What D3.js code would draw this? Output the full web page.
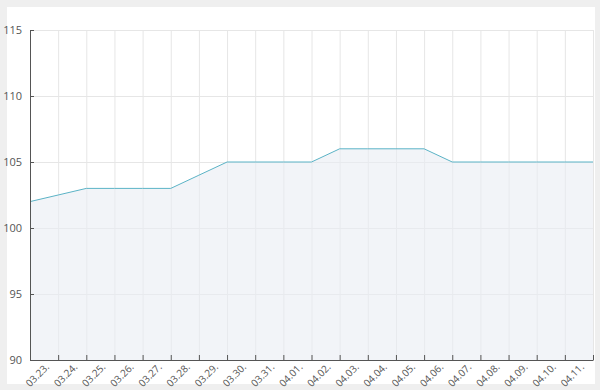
<!DOCTYPE html>
<html>
<head>
<meta charset="utf-8">
<script src="https://cdn.jsdelivr.net/npm/d3@7"></script>
<style>
  body { margin: 0; background: #efefef; }
  svg { display: block; }
  .axis text { font-family: "Open Sans", sans-serif; font-size: 10px; fill: #555; }
  .axis path, .axis line { stroke: #555; }
</style>
</head>
<body>
<script>
var dates = ["03.23.", "03.24.", "03.25.", "03.26.", "03.27.", "03.28.", "03.29.",
             "03.30.", "03.31.", "04.01.", "04.02.", "04.03.", "04.04.", "04.05.",
             "04.06.", "04.07.", "04.08.", "04.09.", "04.10.", "04.11.", "04.12."];
var values = [102, 102.5, 103, 103, 103, 103, 104, 105, 105, 105, 105,
              106, 106, 106, 106, 105, 105, 105, 105, 105, 105];
var yTicks = [90, 95, 100, 105, 110, 115];

var w = 600, h = 390;
var margin = {left: 30, right: 7, top: 30, bottom: 30};

var svg = d3.select("body").append("svg")
    .attr("width", w)
    .attr("height", h);

// white card inside grey frame
svg.append("rect")
    .attr("x", 7).attr("y", 7)
    .attr("width", 588).attr("height", 377)
    .attr("fill", "#fff");

var x = d3.scalePoint()
    .domain(dates)
    .range([margin.left, w - margin.right]);

var y = d3.scaleLinear()
    .domain([90, 115])
    .range([h - margin.bottom, margin.top]);

// grid
svg.append("g")
    .selectAll("line")
    .data(dates)
  .enter().append("line")
    .attr("x1", function(d) { return x(d) + .5; })
    .attr("x2", function(d) { return x(d) + .5; })
    .attr("y1", y(115))
    .attr("y2", y(90))
    .attr("stroke", "#e6e6e6");

svg.append("g")
    .selectAll("line")
    .data(yTicks)
  .enter().append("line")
    .attr("x1", margin.left)
    .attr("x2", w - margin.right)
    .attr("y1", function(d) { return y(d) + .5; })
    .attr("y2", function(d) { return y(d) + .5; })
    .attr("stroke", "#e6e6e6");

var area = d3.area()
    .x(function(d, i) { return x(dates[i]); })
    .y0(y(90))
    .y1(function(d) { return y(d); });

var line = d3.line()
    .x(function(d, i) { return x(dates[i]); })
    .y(function(d) { return y(d); });

svg.append("path")
    .datum(values)
    .attr("d", area)
    .attr("fill", "#e9ecf4")
    .attr("fill-opacity", 0.6);

svg.append("path")
    .datum(values)
    .attr("d", line)
    .attr("fill", "none")
    .attr("stroke", "#5bb3c6")
    .attr("stroke-width", 1);

var xAxis = svg.append("g")
    .attr("class", "axis")
    .attr("transform", "translate(0," + (h - margin.bottom) + ")")
    .call(d3.axisBottom(x).tickSize(5).tickSizeOuter(0)
        .tickFormat(function(d) { return d === "04.12." ? "" : d; }));
xAxis.selectAll("line").attr("transform", "translate(0,-5)");
xAxis.selectAll("text")
    .attr("text-anchor", "middle")
    .attr("x", 0)
    .attr("y", 0)
    .attr("dy", "0.35em")
    .attr("transform", "translate(7,15) rotate(-45)");

svg.append("g")
    .attr("class", "axis")
    .attr("transform", "translate(" + margin.left + ",0)")
    .call(d3.axisLeft(y).tickValues(yTicks).tickSize(0).tickPadding(8).tickSizeOuter(0))
    .selectAll("text").style("font-size", "11px");

// small y tick marks inside plot
svg.append("g")
    .selectAll("line")
    .data(yTicks)
  .enter().append("line")
    .attr("x1", margin.left)
    .attr("x2", margin.left + 4)
    .attr("y1", function(d) { return y(d) + .5; })
    .attr("y2", function(d) { return y(d) + .5; })
    .attr("stroke", "#555");
</script>
</body>
</html>
